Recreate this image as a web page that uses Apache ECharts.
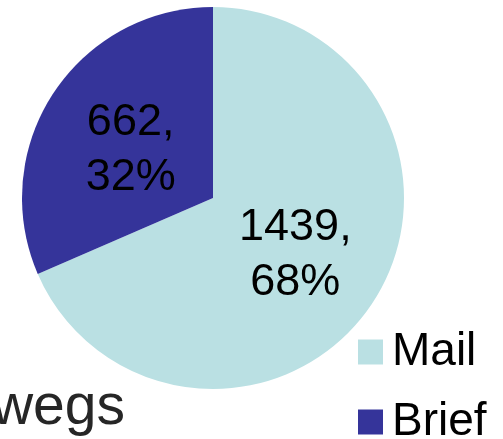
<!DOCTYPE html>
<html>
<head>
<meta charset="utf-8">
<script src="https://cdn.jsdelivr.net/npm/echarts@6/dist/echarts.min.js"></script>
<style>
html,body{margin:0;padding:0;background:#fff;}
#chart{width:503px;height:439px;}
</style>
</head>
<body>
<div id="chart"></div>
<script>
var categories = ['Mail', 'Brief'];
var values = [1439, 662];
var colors = ['#BAE0E3', '#35349A'];
var titleText = 'wegs';

var chart = echarts.init(document.getElementById('chart'), null, {renderer: 'canvas'});
var font = 'Liberation Sans, Arial, sans-serif';
var labelOffsets = [[0, 3], [0, 6]];
var legendTops = [324, 394];
chart.setOption({
  animation: false,
  color: colors,
  legend: categories.map(function (c, i) {
    return {
      orient: 'vertical',
      left: 353,
      top: legendTops[i],
      itemWidth: 25,
      itemHeight: 25,
      icon: 'rect',
      data: [c],
      textStyle: {fontFamily: font, fontSize: 46, color: '#000', padding: [0, 0, 0, 4]}
    };
  }),
  graphic: [{
    type: 'text',
    right: 378,
    top: 380,
    style: {text: titleText, font: '57px ' + font, fill: '#262626'}
  }],
  series: [{
    type: 'pie',
    center: [213, 198],
    radius: 191,
    startAngle: 90,
    clockwise: true,
    emphasis: {disabled: true},
    label: {
      position: 'inside',
      fontFamily: font,
      fontSize: 45,
      lineHeight: 55,
      color: '#000',
      formatter: function (p) { return p.value + ',\n' + Math.round(p.percent) + '%'; }
    },
    labelLine: {show: false},
    itemStyle: {borderWidth: 0},
    data: categories.map(function (c, i) {
      return {name: c, value: values[i], label: {offset: labelOffsets[i]}};
    })
  }]
});
</script>
</body>
</html>
